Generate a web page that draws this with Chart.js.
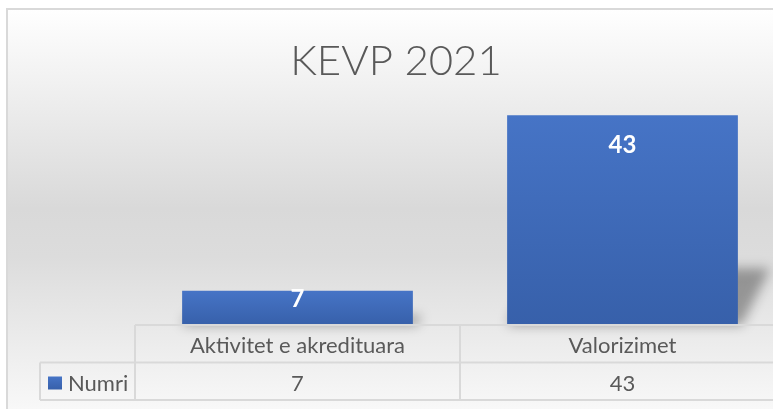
<!DOCTYPE html>
<html>
<head>
<meta charset="utf-8">
<script src="https://cdn.jsdelivr.net/npm/chart.js@4.4.1/dist/chart.umd.min.js"></script>
<style>
html, body { margin: 0; padding: 0; background: #fff; }
#wrap { width: 773px; height: 409px; overflow: hidden; }
canvas { display: block; }
</style>
</head>
<body>
<div id="wrap"><canvas id="grafiku" width="800" height="409"></canvas></div>
<script>
// te dhenat e grafikut
const titulli = 'KEVP 2021';
const kategorite = ['Aktivitet e akredituara', 'Valorizimet'];
const serieEmri = 'Numri';
const vlerat = [7, 43];
const yMin = 0;
const yMax = 50;

const ngjyraTeksti = '#595959';
const ngjyraVijave = '#d9d9d9';

// gradient per cdo shtylle (lart me e hapur, poshte me e erret)
function gradientShtylle(ctx, top, bottom) {
    const g = ctx.createLinearGradient(0, top, 0, bottom);
    g.addColorStop(0, '#4674c6');
    g.addColorStop(1, '#3760aa');
    return g;
}

// sfondi + korniza + titulli
const sfondiPlugin = {
    id: 'sfondi',
    beforeDraw(chart) {
        const { ctx, width, height } = chart;
        ctx.save();
        ctx.fillStyle = '#ffffff';
        ctx.fillRect(0, 0, width, height);
        const g = ctx.createLinearGradient(0, 8, 0, height);
        g.addColorStop(0, '#ffffff');
        g.addColorStop(0.5, '#d9d9d9');
        g.addColorStop(0.62, '#dcdcdc');
        g.addColorStop(1, '#f8f8f8');
        ctx.fillStyle = g;
        ctx.fillRect(7, 8, width, height);
        ctx.strokeStyle = ngjyraVijave;
        ctx.lineWidth = 2;
        ctx.strokeRect(7, 9, width + 20, height + 20);
        ctx.fillStyle = ngjyraTeksti;
        ctx.font = '300 42px Lato';
        ctx.textAlign = 'center';
        ctx.textBaseline = 'alphabetic';
        ctx.fillText(titulli, 396, 75);
        ctx.restore();
    }
};

// hija e shtyllave (perspektive)
const hijaPlugin = {
    id: 'hija',
    beforeDatasetsDraw(chart) {
        const { ctx } = chart;
        const meta = chart.getDatasetMeta(0);
        ctx.save();
        ctx.filter = 'blur(6px)';
        ctx.fillStyle = 'rgba(0,0,0,0.34)';
        meta.data.forEach(bar => {
            const p = bar.getProps(['x', 'y', 'base', 'width'], true);
            const left = p.x - p.width / 2;
            const right = p.x + p.width / 2;
            const h = (p.base - p.y) * 0.27;
            ctx.beginPath();
            ctx.moveTo(left, p.base);
            ctx.lineTo(right + 4, p.base);
            ctx.lineTo(right + 4 + h * 0.5, p.base - h);
            ctx.lineTo(left + h * 0.5, p.base - h);
            ctx.closePath();
            ctx.fill();
        });
        ctx.restore();
    }
};

// etiketat e vlerave brenda shtyllave
const etiketaPlugin = {
    id: 'etiketa',
    afterDatasetsDraw(chart) {
        const { ctx } = chart;
        const meta = chart.getDatasetMeta(0);
        ctx.save();
        ctx.fillStyle = '#ffffff';
        ctx.font = 'bold 24px Lato';
        ctx.textAlign = 'center';
        ctx.textBaseline = 'alphabetic';
        meta.data.forEach((bar, i) => {
            const p = bar.getProps(['x', 'y', 'base'], true);
            const h = p.base - p.y;
            ctx.fillText(String(vlerat[i]), p.x, p.y + Math.min(38, h * 0.47));
        });
        ctx.restore();
    }
};

// tabela e te dhenave poshte grafikut
const tabelaPlugin = {
    id: 'tabela',
    afterDraw(chart) {
        const { ctx, chartArea, scales } = chart;
        const x = scales.x;
        const top = chartArea.bottom;
        const rresht = 37.5;
        const y1 = top + rresht;
        const y2 = y1 + rresht;
        const majtas = 40;
        const gjeresi = (chartArea.right - chartArea.left) / kategorite.length;

        ctx.save();
        ctx.strokeStyle = ngjyraVijave;
        ctx.lineWidth = 2;
        ctx.beginPath();
        ctx.moveTo(chartArea.left, top); ctx.lineTo(chartArea.right, top);
        ctx.moveTo(majtas, y1); ctx.lineTo(chartArea.right, y1);
        ctx.moveTo(majtas, y2); ctx.lineTo(chartArea.right, y2);
        ctx.moveTo(majtas, y1); ctx.lineTo(majtas, y2);
        for (let i = 0; i <= kategorite.length; i++) {
            const vx = chartArea.left + i * gjeresi;
            ctx.moveTo(vx, top); ctx.lineTo(vx, y2);
        }
        ctx.stroke();

        ctx.fillStyle = ngjyraTeksti;
        ctx.font = '22px Lato';
        ctx.textAlign = 'center';
        ctx.textBaseline = 'alphabetic';
        kategorite.forEach((k, i) => {
            const cx = x.getPixelForValue(i);
            ctx.fillText(k, cx, top + 27.5);
            ctx.fillText(String(vlerat[i]), cx, y1 + 28);
        });

        // legjenda
        ctx.fillStyle = gradientShtylle(ctx, y1 + 14, y1 + 27);
        ctx.fillRect(48, y1 + 14, 14, 13);
        ctx.fillStyle = ngjyraTeksti;
        ctx.textAlign = 'left';
        ctx.fillText(serieEmri, 68, y1 + 28);
        ctx.restore();
    }
};

function krijoGrafikun() {
    const ctx = document.getElementById('grafiku').getContext('2d');
    new Chart(ctx, {
        type: 'bar',
        data: {
            labels: kategorite,
            datasets: [{
                label: serieEmri,
                data: vlerat,
                backgroundColor: (c) => {
                    const chart = c.chart;
                    if (!chart.chartArea || c.parsed == null) return '#4472c4';
                    const ys = chart.scales.y;
                    return gradientShtylle(chart.ctx, ys.getPixelForValue(c.parsed.y), ys.getPixelForValue(0));
                },
                borderWidth: 0,
                categoryPercentage: 1,
                barPercentage: 0.71
            }]
        },
        options: {
            responsive: false,
            animation: false,
            layout: { padding: { left: 135, right: 15, top: 81, bottom: 84 } },
            plugins: {
                legend: { display: false },
                title: { display: false },
                tooltip: { enabled: false }
            },
            scales: {
                x: { display: false },
                y: { display: false, min: yMin, max: yMax }
            }
        },
        plugins: [sfondiPlugin, hijaPlugin, etiketaPlugin, tabelaPlugin]
    });
}

Promise.all([
    document.fonts.load('300 42px Lato'),
    document.fonts.load('bold 24px Lato'),
    document.fonts.load('22px Lato')
]).then(krijoGrafikun, krijoGrafikun);
</script>
</body>
</html>
